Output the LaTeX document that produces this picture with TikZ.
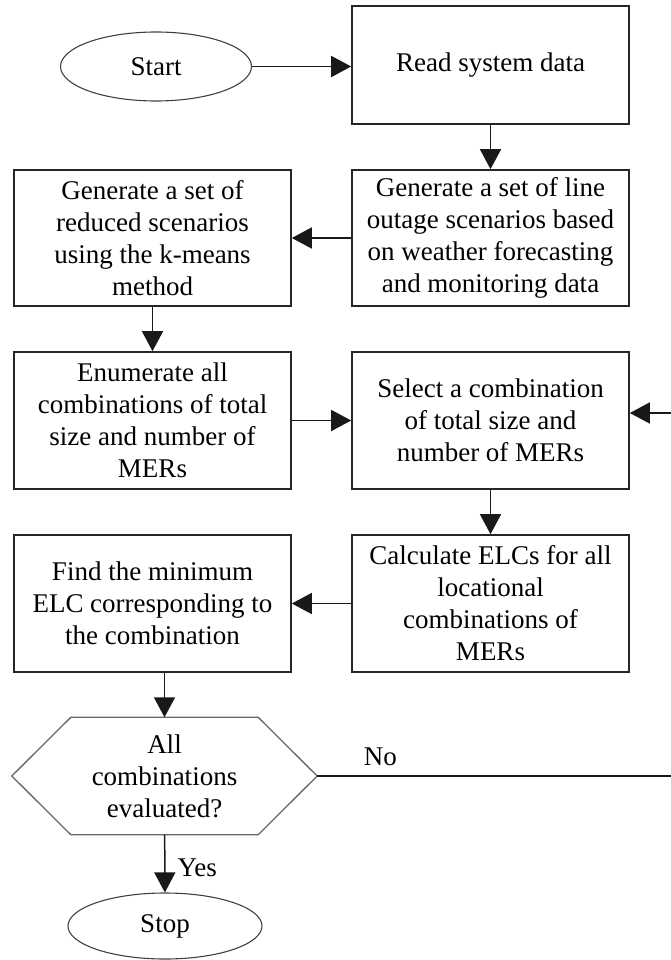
\documentclass[tikz,border=0pt]{standalone}
\usepackage{fontspec}
\setmainfont{Liberation Serif}
\usetikzlibrary{arrows.meta, shapes.geometric}

\tikzset{
  block/.style={draw=black!85, line width=1.6pt, minimum width=277pt, inner sep=0pt, align=center, font=\fontsize{27}{32}\selectfont},
  terminal/.style={draw=black!75, ellipse, line width=1.1pt, inner sep=0pt, font=\fontsize{27}{32}\selectfont},
  decision/.style={inner sep=0pt, minimum width=305pt, minimum height=117pt, align=center, font=\fontsize{27}{32}\selectfont},
  hexline/.style={draw=black!60, line width=1.3pt, line join=miter},
  flow/.style={line width=1.5pt, draw=black!90, -{Triangle[length=20pt,width=21pt]}},
  lbl/.style={inner sep=0pt, font=\fontsize{27}{32}\selectfont}
}

\begin{document}
\begin{tikzpicture}[x=1pt, y=-1pt]

\useasboundingbox (0,0) rectangle (671,960);

\node[terminal, minimum width=191pt, minimum height=69pt] (start) at (156,66.5) {Start};
\node[block, minimum height=118pt] (read) at (490.5,65) {Read system data};

\node[block, minimum height=136pt] (outage) at (490.5,238) {Generate a set of line\\outage scenarios based\\on weather forecasting\\and monitoring data};
\node[block, minimum height=136pt] (reduce) at (152.5,238) {Generate a set of\\reduced scenarios\\using the k-means\\method};

\node[block, minimum height=137pt] (enum) at (152.5,420.5) {Enumerate all\\combinations of total\\size and number of\\MERs};
\node[block, minimum height=137pt] (select) at (490.5,420.5) {Select a combination\\of total size and\\number of MERs};

\node[block, minimum height=137pt] (calc) at (490.5,603.5) {Calculate ELCs for all\\locational\\combinations of\\MERs};
\node[block, minimum height=137pt] (find) at (152.5,603.5) {Find the minimum\\ELC corresponding to\\the combination};

% decision hexagon
\node[decision] (decide) at (164.5,776) {All\\combinations\\evaluated?};
\draw[hexline] (decide.west) -- ([xshift=59pt]decide.north west) -- ([xshift=-59pt]decide.north east) -- (decide.east) -- ([xshift=-59pt]decide.south east) -- ([xshift=59pt]decide.south west) -- cycle;

\node[terminal, minimum width=194pt, minimum height=66pt] (stop) at (165,926) {Stop};

\coordinate (back) at (673,413);

\draw[flow] (start.east) -- (start.east -| read.west);
\draw[flow] (read) -- (outage);
\draw[flow] (outage) -- (reduce);
\draw[flow] (reduce) -- (enum);
\draw[flow] (enum) -- (select);
\draw[flow] (select) -- (calc);
\draw[flow] (calc) -- (find);
\draw[flow] (decide.north |- find.south) -- (decide.north);
\draw[flow] (decide) -- node[lbl, at end, anchor=base west, xshift=12pt, yshift=16pt] {Yes} (stop);
\draw[flow] (decide.east) -- node[lbl, at start, anchor=base west, xshift=46pt, yshift=11pt] {No} (decide.east -| back) -- (back) -- (back -| select.east);

\end{tikzpicture}
\end{document}
